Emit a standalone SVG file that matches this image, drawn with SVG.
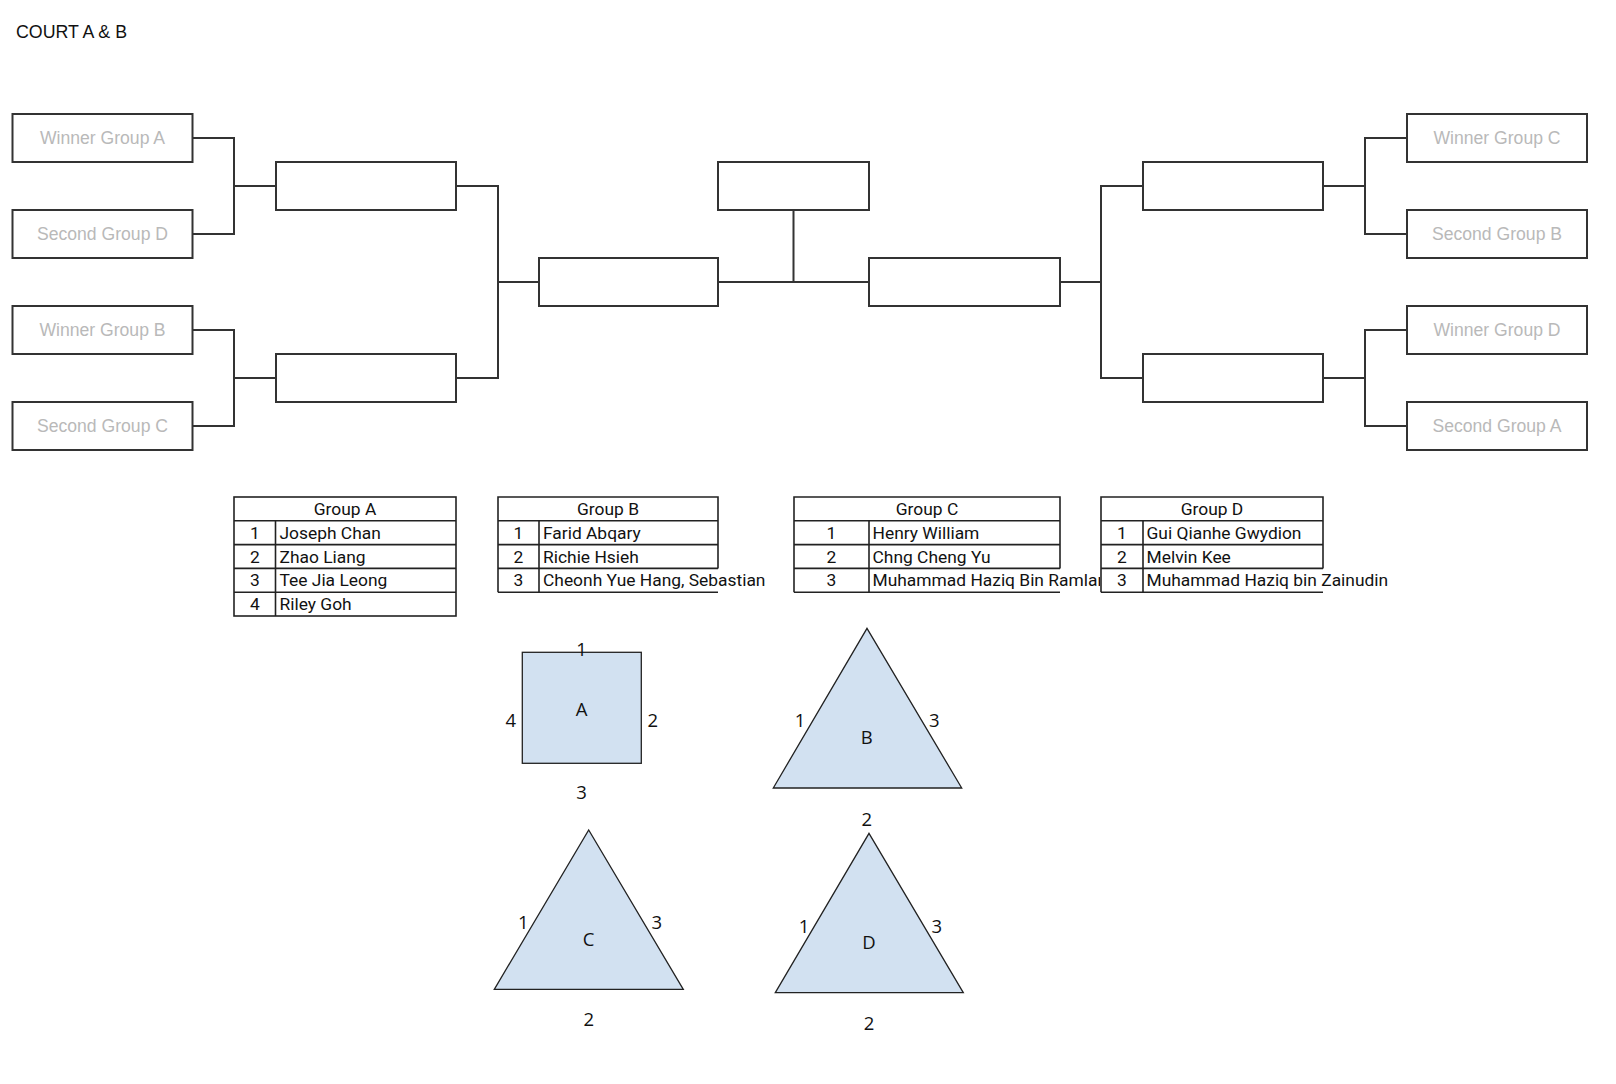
<svg xmlns="http://www.w3.org/2000/svg" width="1616" height="1084" viewBox="0 0 1616 1084">
<style>
  .box { fill: #ffffff; stroke: #333333; stroke-width: 2; }
  .conn { fill: none; stroke: #333333; stroke-width: 2; }
  .seed { font-family: "Liberation Sans", Arial, sans-serif; font-size: 17.6px; fill: #b9b9b9; text-anchor: middle; }
  .title { font-family: "Liberation Sans", Arial, sans-serif; font-size: 17.8px; fill: #111111; }
  .tbl { fill: none; stroke: #222222; stroke-width: 1.6; }
  .tt { font-family: Roboto, "Liberation Sans", sans-serif; font-size: 17.4px; fill: #111111; }
  .tc { text-anchor: middle; }
  .shape { fill: #d2e1f1; stroke: #222222; stroke-width: 1.3; }
  .lbl { font-family: "Open Sans", "DejaVu Sans", sans-serif; font-size: 18.5px; fill: #111111; text-anchor: middle; }
</style>
<defs>
  <clipPath id="clipC3"><rect x="869" y="568" width="231" height="24"/></clipPath>
</defs>
<rect x="0" y="0" width="1616" height="1084" fill="#ffffff"/>
<text class="title" x="16" y="37.5">COURT A &amp; B</text>

<g id="connectors">
  <path class="conn" d="M192.5 138 H234 V234 H192.5 M234 186 H276"/>
  <path class="conn" d="M192.5 330 H234 V426 H192.5 M234 378 H276"/>
  <path class="conn" d="M456 186 H498 V378 H456 M498 282 H539"/>
  <path class="conn" d="M718 282 H869 M793.5 210 V282"/>
  <path class="conn" d="M1060 282 H1101 M1143 186 H1101 V378 H1143"/>
  <path class="conn" d="M1323 186 H1365 M1407 138 H1365 V234 H1407"/>
  <path class="conn" d="M1323 378 H1365 M1407 330 H1365 V426 H1407"/>
</g>

<g id="winner-group-a"><rect class="box" x="12.5" y="114" width="180" height="48"/><text class="seed" x="102.5" y="144.3">Winner Group A</text></g>
<g id="second-group-d"><rect class="box" x="12.5" y="210" width="180" height="48"/><text class="seed" x="102.5" y="240.3">Second Group D</text></g>
<g id="winner-group-b"><rect class="box" x="12.5" y="306" width="180" height="48"/><text class="seed" x="102.5" y="336.3">Winner Group B</text></g>
<g id="second-group-c"><rect class="box" x="12.5" y="402" width="180" height="48"/><text class="seed" x="102.5" y="432.3">Second Group C</text></g>

<g id="qf-left-top"><rect class="box" x="276" y="162" width="180" height="48"/></g>
<g id="qf-left-bottom"><rect class="box" x="276" y="354" width="180" height="48"/></g>
<g id="sf-left"><rect class="box" x="539" y="258" width="179" height="48"/></g>
<g id="final"><rect class="box" x="718" y="162" width="151" height="48"/></g>
<g id="sf-right"><rect class="box" x="869" y="258" width="191" height="48"/></g>
<g id="qf-right-top"><rect class="box" x="1143" y="162" width="180" height="48"/></g>
<g id="qf-right-bottom"><rect class="box" x="1143" y="354" width="180" height="48"/></g>

<g id="winner-group-c"><rect class="box" x="1407" y="114" width="180" height="48"/><text class="seed" x="1497" y="144.3">Winner Group C</text></g>
<g id="second-group-b"><rect class="box" x="1407" y="210" width="180" height="48"/><text class="seed" x="1497" y="240.3">Second Group B</text></g>
<g id="winner-group-d"><rect class="box" x="1407" y="306" width="180" height="48"/><text class="seed" x="1497" y="336.3">Winner Group D</text></g>
<g id="second-group-a"><rect class="box" x="1407" y="402" width="180" height="48"/><text class="seed" x="1497" y="432.3">Second Group A</text></g>

<g id="table-group-a">
  <rect class="tbl" x="234" y="497" width="222" height="119"/>
  <path class="tbl" d="M234 520.8 H456 M234 544.6 H456 M234 568.4 H456 M234 592.2 H456 M275.5 520.8 V616"/>
  <text class="tt tc" x="345" y="515">Group A</text>
  <text class="tt tc" x="255" y="538.7">1</text><text class="tt" x="279.5" y="538.7">Joseph Chan</text>
  <text class="tt tc" x="255" y="562.5">2</text><text class="tt" x="279.5" y="562.5">Zhao Liang</text>
  <text class="tt tc" x="255" y="586.3">3</text><text class="tt" x="279.5" y="586.3">Tee Jia Leong</text>
  <text class="tt tc" x="255" y="610.1">4</text><text class="tt" x="279.5" y="610.1">Riley Goh</text>
</g>

<g id="table-group-b">
  <path class="tbl" d="M498 592.2 V497 H718 V568.4 M498 592.2 H718 M498 520.8 H718 M498 544.6 H718 M498 568.4 H718 M539 520.8 V592.2"/>
  <text class="tt tc" x="608" y="515">Group B</text>
  <text class="tt tc" x="518.5" y="538.7">1</text><text class="tt" x="543" y="538.7">Farid Abqary</text>
  <text class="tt tc" x="518.5" y="562.5">2</text><text class="tt" x="543" y="562.5">Richie Hsieh</text>
  <text class="tt tc" x="518.5" y="586.3">3</text><text class="tt" x="543" y="586.3">Cheonh Yue Hang, Sebastian</text>
</g>

<g id="table-group-c">
  <path class="tbl" d="M794 592.2 V497 H1060 V568.4 M794 592.2 H1060 M794 520.8 H1060 M794 544.6 H1060 M794 568.4 H1060 M869 520.8 V592.2"/>
  <text class="tt tc" x="927" y="515">Group C</text>
  <text class="tt tc" x="831.5" y="538.7">1</text><text class="tt" x="872.5" y="538.7">Henry William</text>
  <text class="tt tc" x="831.5" y="562.5">2</text><text class="tt" x="872.5" y="562.5">Chng Cheng Yu</text>
  <text class="tt tc" x="831.5" y="586.3">3</text><text class="tt" x="872.5" y="586.3" clip-path="url(#clipC3)">Muhammad Haziq Bin Ramlan</text>
</g>

<g id="table-group-d">
  <path class="tbl" d="M1101 592.2 V497 H1323 V568.4 M1101 592.2 H1323 M1101 520.8 H1323 M1101 544.6 H1323 M1101 568.4 H1323 M1143 520.8 V592.2"/>
  <text class="tt tc" x="1212" y="515">Group D</text>
  <text class="tt tc" x="1122" y="538.7">1</text><text class="tt" x="1146.5" y="538.7">Gui Qianhe Gwydion</text>
  <text class="tt tc" x="1122" y="562.5">2</text><text class="tt" x="1146.5" y="562.5">Melvin Kee</text>
  <text class="tt tc" x="1122" y="586.3">3</text><text class="tt" x="1146.5" y="586.3">Muhammad Haziq bin Zainudin</text>
</g>

<g id="shape-a">
  <rect class="shape" x="522.3" y="652.3" width="119" height="111"/>
  <text class="lbl" x="581.5" y="655.5">1</text>
  <text class="lbl" x="581.5" y="715.8">A</text>
  <text class="lbl" x="510.7" y="727.2">4</text>
  <text class="lbl" x="652.7" y="727.2">2</text>
  <text class="lbl" x="581.5" y="799.2">3</text>
</g>

<g id="shape-b">
  <polygon class="shape" points="867,628.3 961.7,788 773.3,788"/>
  <text class="lbl" x="800" y="726.5">1</text>
  <text class="lbl" x="934.3" y="726.5">3</text>
  <text class="lbl" x="866.7" y="743.8">B</text>
  <text class="lbl" x="866.7" y="825.5">2</text>
</g>

<g id="shape-c">
  <polygon class="shape" points="588.7,830 683.3,989.3 494.3,989.3"/>
  <text class="lbl" x="523.3" y="929.2">1</text>
  <text class="lbl" x="656.7" y="929.2">3</text>
  <text class="lbl" x="588.7" y="945.5">C</text>
  <text class="lbl" x="588.7" y="1025.8">2</text>
</g>

<g id="shape-d">
  <polygon class="shape" points="869,833.3 963.3,992.7 775.3,992.7"/>
  <text class="lbl" x="804" y="932.5">1</text>
  <text class="lbl" x="936.7" y="932.5">3</text>
  <text class="lbl" x="869" y="949.2">D</text>
  <text class="lbl" x="869" y="1029.8">2</text>
</g>
</svg>
